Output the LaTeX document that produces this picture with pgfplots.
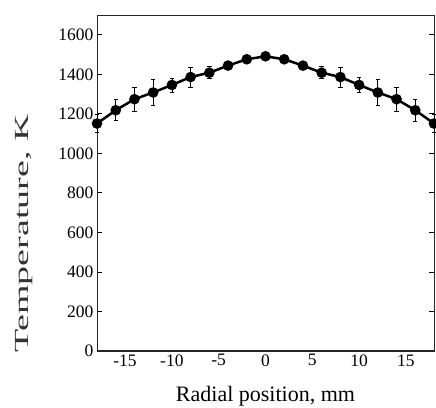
\documentclass[border=0pt]{standalone}
\usepackage{pgfplots}
\pgfplotsset{compat=1.18}
\usepackage{fontspec}
\setmainfont{Liberation Serif}
\pgfplotstableread{
x y e
-18 1151 46
-16 1218 53
-14 1274 61
-12 1308 64
-10 1346 36
-8 1386 51
-6 1408 31
-4 1444 8
-2 1476 5
0 1491 5
2 1476 5
4 1444 8
6 1408 31
8 1386 51
10 1346 37
12 1308 64
14 1274 61
16 1218 54
18 1151 46
}\datatable
\begin{document}
\begin{tikzpicture}
\begin{axis}[
  at={(0,0)}, anchor=south west,
  scale only axis,
  width=337pt, height=336pt,
  xmin=-18, xmax=18, ymin=0, ymax=1700,
  xtick={-15,-10,...,15},
  ytick={0,200,...,1600},
  tick align=inside,
  x tick style={draw=none},
  y tick style={line width=0.8pt, black},
  major tick length=5pt,
  axis line style={line width=0.8pt, black!85},
  /pgf/number format/assume math mode=true,
  /pgf/number format/1000 sep={},
  tick label style={font=\fontsize{17.5}{20}\selectfont},
  xlabel style={font=\fontsize{22}{24}\selectfont},
  ylabel style={font=\fontsize{20}{22}\selectfont, black!80},
  xlabel={Radial position, mm},
  ylabel={\scalebox{1.9}[1]{Temperature, K}},
  xlabel style={at={(axis description cs:0.5,-0.149)}, anchor=base},
  ylabel style={at={(axis description cs:-0.217,0.35)}, anchor=center},
  clip=false,
]
\draw[line width=2pt, black!85] (rel axis cs:0,0) -- (rel axis cs:1,0);
\addplot[black, line width=2.5pt, mark=*, mark size=4pt,
  error bars/.cd, y dir=both, y explicit,
  error bar style={line width=0.7pt, black},
  error mark options={rotate=90, mark size=2.2pt, line width=0.7pt, black}]
  table[x=x, y=y, y error=e] {\datatable};
\end{axis}
\pgfresetboundingbox
\path[use as bounding box] (-97pt,-56pt) rectangle (339pt,351pt);
\end{tikzpicture}
\end{document}
